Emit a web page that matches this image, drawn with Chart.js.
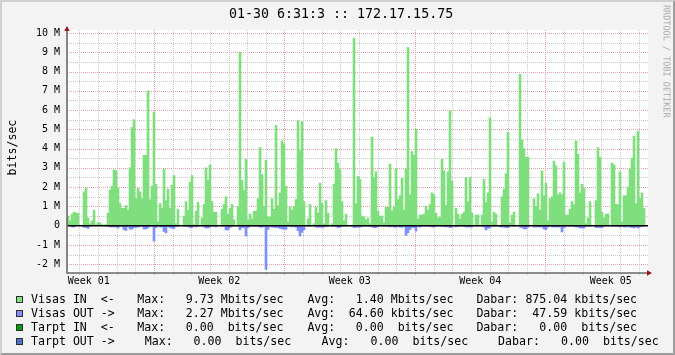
<!DOCTYPE html>
<html>
<head>
<meta charset="utf-8">
<script src="https://cdn.jsdelivr.net/npm/chart.js@4"></script>
<style>
html, body { margin: 0; padding: 0; }
body { width: 675px; height: 355px; overflow: hidden; background: #f3f3f3; position: relative; font-family: "DejaVu Sans Mono", monospace; }
#c { position: absolute; left: 0; top: 0; }
#frame { position: absolute; left: 0; top: 0; width: 675px; height: 355px; box-sizing: border-box; border-style: solid; border-width: 2px; border-color: #d0d0d0 #9c9c9c #9c9c9c #d0d0d0; pointer-events: none; }
.t { position: absolute; white-space: pre; color: #000; font-size: 11.6px; line-height: 14px; }
.sq { position: absolute; width: 7px; height: 7px; box-sizing: border-box; border: 1px solid #303030; }
#title { position: absolute; left: 229px; top: 6px; font-size: 13.3px; line-height: 15px; white-space: pre; }
#ylab { position: absolute; left: 0; top: 0; font-size: 11.6px; line-height: 14px; white-space: pre; transform-origin: 0 0; transform: translate(4.5px, 175.5px) rotate(-90deg); }
#wm { position: absolute; left: 0; top: 0; font-size: 8.5px; line-height: 10px; white-space: pre; color: #a8a8a8; transform-origin: 0 0; transform: translate(671.5px, 5px) rotate(90deg); }
</style>
</head>
<body>
<canvas id="c" width="675" height="355"></canvas>
<div id="title">01-30 6:31:3 :: 172.17.15.75</div>
<div id="ylab">bits/sec</div>
<div id="wm">RRDTOOL / TOBI OETIKER</div>
<div id="legend"></div>
<div id="frame"></div>
<script>
// --- DATA (Mbit/s per sample) ---
const IN_MBPS = [
  0.5, 0.25, 0.6, 0.7, 0.65, 0.65, 0.02, 0.02, 1.75, 1.95,     // 0
  0.4, 0.1, 0.25, 0.8, 0.05, 0.15, 0.15, 0.05, 0.03, 0.05,     // 10
  0.65, 1.85, 2.05, 2.9, 2.85, 1.95, 1.15, 0.9, 0.9, 1.05,     // 20
  0.8, 3.0, 5.1, 5.5, 1.4, 1.95, 1.75, 1.4, 3.65, 3.65,        // 30
  7.0, 1.35, 2.05, 5.9, 2.15, 0.2, 1.15, 0.9, 2.95, 1.3,       // 40
  1.9, 0.9, 2.1, 2.6, 0.1, 0.85, 0.02, 0, 0.5, 1.25,           // 50
  0.8, 2.25, 2.6, 0.05, 0.75, 1.2, 0.02, 0.4, 1.1, 3.0,        // 60
  2.35, 3.15, 1.25, 0.7, 0.7, 0, 0, 0.85, 1.1, 1.5,            // 70
  0.6, 0.9, 1.1, 0.3, 0, 1.0, 9.0, 2.35, 1.85, 3.45,           // 80
  0.3, 0.6, 0.35, 0.75, 0.75, 1.4, 4.05, 2.65, 1.0, 3.4,       // 90
  0.45, 0.45, 1.4, 0.85, 5.2, 1.05, 1.7, 4.4, 4.25, 2.05,      // 100
  0.2, 0.95, 0.8, 1.0, 1.35, 5.45, 3.9, 5.4, 1.25, 0,          // 110
  0.35, 1.1, 0, 0.1, 0.95, 0.65, 2.2, 1.15, 0.1, 1.3,          // 120
  0.65, 0, 0.1, 2.15, 4.0, 3.25, 2.9, 1.25, 0.25, 0.6,         // 130
  0, 0, 0, 9.73, 1.15, 2.55, 2.4, 0.5, 0.45, 0.3,              // 140
  0.4, 0.1, 4.6, 2.5, 2.8, 0.75, 0.5, 0.5, 0.15, 0.95,         // 150
  0.95, 3.2, 0.75, 0.95, 2.95, 1.35, 1.55, 2.45, 0.8, 2.95,    // 160
  9.25, 1.6, 3.85, 3.65, 5.0, 0.35, 0.55, 0.55, 0.6, 1.0,      // 170
  0.8, 1.1, 1.7, 1.6, 0.65, 0.4, 0.45, 3.45, 2.85, 1.05,       // 180
  2.8, 5.95, 2.3, 0, 0.9, 0.6, 0.35, 0.6, 0.7, 2.5,            // 190
  1.25, 2.5, 0.65, 0, 0.55, 0.55, 0, 0.55, 2.4, 1.2,           // 200
  1.7, 5.6, 0.2, 0.7, 0.6, 0, 0, 1.5, 1.9, 2.7,                // 210
  4.85, 0.15, 0.55, 0.7, 0, 0, 7.85, 4.45, 4.0, 3.55,          // 220
  3.55, 0, 0, 1.4, 1.0, 1.65, 0.8, 2.85, 1.55, 2.2,            // 230
  0.25, 1.4, 1.5, 3.35, 3.1, 1.6, 1.7, 1.6, 3.3, 0.55,         // 240
  0.55, 0.85, 1.25, 1.1, 4.4, 3.7, 1.7, 2.15, 1.95, 0.1,       // 250
  0.4, 1.25, 0, 0, 1.3, 4.05, 3.55, 0.7, 0.4, 0.6,             // 260
  0.6, 0, 3.25, 3.15, 1.1, 1.1, 2.8, 0.2, 1.55, 1.55,          // 270
  2.0, 2.95, 3.5, 4.65, 1.15, 4.9, 1.4, 1.7, 0.9               // 280
];

const OUT_MBPS = [
  0, 0, 0.07, 0.07, 0, 0, 0, 0, 0.09, 0.09,
  0.14, 0.02, 0, 0, 0, 0, 0, 0, 0, 0,
  0.02, 0.07, 0.07, 0.07, 0.07, 0.12, 0.04, 0.05, 0.2, 0.25,
  0.05, 0.18, 0.18, 0.1, 0.08, 0.08, 0.04, 0.03, 0.17, 0.17,
  0.12, 0.04, 0.04, 0.8, 0.1, 0.02, 0.07, 0.07, 0.3, 0.38,
  0.04, 0.1, 0.14, 0.14, 0.02, 0.03, 0, 0, 0.02, 0.03,
  0.03, 0.1, 0.1, 0.02, 0.07, 0.03, 0, 0.02, 0.07, 0.12,
  0.12, 0.07, 0.03, 0.02, 0.07, 0, 0, 0.03, 0.03, 0.22,
  0.22, 0.1, 0.03, 0.02, 0, 0.03, 0.22, 0.1, 0.1, 0.54,
  0.1, 0.03, 0.02, 0.03, 0.03, 0.03, 0.08, 0.08, 0.04, 2.27,
  0.2, 0.04, 0.08, 0.08, 0.1, 0.1, 0.14, 0.17, 0.19, 0.19,
  0.03, 0.03, 0.07, 0.03, 0.08, 0.26, 0.54, 0.35, 0.22, 0,
  0.02, 0.03, 0, 0.02, 0.08, 0.08, 0.08, 0.08, 0.08, 0.03,
  0.03, 0, 0.02, 0.04, 0.04, 0.1, 0.08, 0.03, 0.02, 0.02,
  0, 0, 0.02, 0.1, 0.08, 0.08, 0.08, 0.03, 0.03, 0.02,
  0.02, 0.02, 0.07, 0.1, 0.1, 0.03, 0.02, 0.02, 0.02, 0.03,
  0.03, 0.07, 0.03, 0.08, 0.08, 0.03, 0.08, 0.08, 0.03, 0.5,
  0.37, 0.2, 0.1, 0.1, 0.28, 0.02, 0.07, 0.02, 0.02, 0.03,
  0.03, 0.03, 0.07, 0.07, 0.03, 0.02, 0.02, 0.03, 0.03, 0.07,
  0.03, 0.1, 0.08, 0, 0.06, 0.03, 0.02, 0.03, 0.03, 0.07,
  0.07, 0.07, 0.07, 0, 0.02, 0.02, 0, 0.03, 0.07, 0.22,
  0.14, 0.1, 0.02, 0.03, 0.03, 0, 0.07, 0.07, 0.07, 0.1,
  0.1, 0.03, 0.02, 0.03, 0, 0, 0.07, 0.1, 0.17, 0.17,
  0.08, 0, 0, 0.07, 0.07, 0.07, 0.07, 0.07, 0.17, 0.2,
  0.07, 0.03, 0.07, 0.07, 0.07, 0.07, 0.07, 0.33, 0.1, 0.03,
  0.03, 0.03, 0.03, 0.03, 0.07, 0.07, 0.12, 0.12, 0.12, 0.02,
  0.02, 0.03, 0, 0, 0.1, 0.1, 0.1, 0.1, 0.03, 0.02,
  0.02, 0, 0.03, 0.03, 0.03, 0.03, 0.07, 0.03, 0.07, 0.07,
  0.03, 0.08, 0.08, 0.12, 0.07, 0.12, 0.07, 0.03, 0.03
];

const WEEK_LABELS = ['Week 01', 'Week 02', 'Week 03', 'Week 04', 'Week 05'];
const Y_TICKS = [-2, -1, 0, 1, 2, 3, 4, 5, 6, 7, 8, 9, 10];

const LEGEND_NAMES = ['Visas IN  <-', 'Visas OUT ->', 'Tarpt IN  <-', 'Tarpt OUT ->'];
const LEGEND_MAX = ['  9.73 Mbits/sec', '  2.27 Mbits/sec', '  0.00  bits/sec', '  0.00  bits/sec'];
const LEGEND_AVG = ['  1.40 Mbits/sec', ' 64.60 kbits/sec', '  0.00  bits/sec', '  0.00  bits/sec'];
const LEGEND_CUR = ['875.04 kbits/sec', ' 47.59 kbits/sec', '  0.00  bits/sec', '  0.00  bits/sec'];

// --- LOOK ---
const COL_IN = '#7fdf7f';
const COL_OUT = '#7f8fff';
const LEGEND_COLORS = [COL_IN, COL_OUT, '#00a000', '#4f6fcf'];
const MAJOR = '#e6a3a3';
const MINOR = '#cacaca';

// x axis is in sample slots; one day = 9.32 slots, first week boundary at slot 43.5
const SLOTS = 290.5;
const SLOTS_PER_DAY = 9.321;
const FIRST_WEEK = 43.5;

// --- LEGEND ---
function buildLegend() {
    const box = document.getElementById('legend');
    const cols = [
        [31, 137.3, 171.8, 307.4, 341.8, 476.4, 525.4],
        [31, 137.3, 171.8, 307.4, 341.8, 476.4, 525.4],
        [31, 137.3, 171.8, 307.4, 341.8, 476.4, 525.4],
        [31, 144.7, 179.6, 321.5, 356.6, 498, 547.1]
    ];
    LEGEND_NAMES.forEach((name, r) => {
        const top = 292 + r * 14;
        const sq = document.createElement('div');
        sq.className = 'sq';
        sq.style.left = '16px';
        sq.style.top = (top + 4) + 'px';
        sq.style.background = LEGEND_COLORS[r];
        box.appendChild(sq);
        const parts = [name, 'Max:', LEGEND_MAX[r], 'Avg:', LEGEND_AVG[r], 'Dabar:', LEGEND_CUR[r]];
        parts.forEach((txt, k) => {
            const s = document.createElement('div');
            s.className = 't';
            s.textContent = txt;
            s.style.left = cols[r][k] + 'px';
            s.style.top = top + 'px';
            box.appendChild(s);
        });
    });
}

// --- GRID / AXES (rrdtool look) ---
const rrdGrid = {
    id: 'rrdGrid',
    beforeDatasetsDraw(chart) {
        const { ctx, chartArea: a, scales: { x, y } } = chart;
        ctx.save();
        ctx.fillStyle = '#fff';
        ctx.fillRect(a.left, a.top, a.right - a.left, a.bottom - a.top);
        ctx.lineWidth = 1;
        ctx.setLineDash([1, 1]);
        for (let v = -2; v <= 10; v += 0.5) {
            if (v === 0) continue;
            const py = Math.round(y.getPixelForValue(v)) + 0.5;
            ctx.strokeStyle = Number.isInteger(v) ? MAJOR : MINOR;
            ctx.beginPath(); ctx.moveTo(a.left, py); ctx.lineTo(a.right, py); ctx.stroke();
        }
        for (let k = -4; ; k++) {
            const s = FIRST_WEEK + k * SLOTS_PER_DAY;
            if (s > x.max) break;
            if (s < x.min) continue;
            const px = Math.round(x.getPixelForValue(s)) + 0.5;
            ctx.strokeStyle = k % 7 === 0 ? MAJOR : MINOR;
            ctx.beginPath(); ctx.moveTo(px, a.top); ctx.lineTo(px, a.bottom + 3); ctx.stroke();
        }
        ctx.restore();
    },
    afterDatasetsDraw(chart) {
        const { ctx, chartArea: a, scales: { y } } = chart;
        ctx.save();
        // zero rule
        const y0 = y.getPixelForValue(0);
        ctx.strokeStyle = '#000';
        ctx.lineWidth = 1.5;
        ctx.beginPath(); ctx.moveTo(a.left, y0); ctx.lineTo(a.right, y0); ctx.stroke();
        // axes
        ctx.strokeStyle = '#6a6a6a';
        ctx.lineWidth = 1.6;
        ctx.beginPath();
        ctx.moveTo(a.left, a.top); ctx.lineTo(a.left, a.bottom);
        ctx.lineTo(a.right, a.bottom);
        ctx.stroke();
        // arrows
        ctx.fillStyle = '#9a1414';
        ctx.beginPath();
        ctx.moveTo(a.left, a.top - 4); ctx.lineTo(a.left - 2.7, a.top + 1); ctx.lineTo(a.left + 2.7, a.top + 1);
        ctx.closePath(); ctx.fill();
        ctx.beginPath();
        ctx.moveTo(a.right + 4, a.bottom); ctx.lineTo(a.right - 1, a.bottom - 2.7); ctx.lineTo(a.right - 1, a.bottom + 2.7);
        ctx.closePath(); ctx.fill();
        ctx.restore();
    }
};

const tickFont = { family: 'DejaVu Sans Mono', size: 10 };

new Chart(document.getElementById('c'), {
    type: 'bar',
    data: {
        datasets: [
            {
                label: 'Visas IN',
                data: IN_MBPS.map((v, i) => ({ x: i + 0.5, y: v })),
                backgroundColor: COL_IN,
                borderWidth: 0,
                grouped: false,
                barPercentage: 1,
                categoryPercentage: 1
            },
            {
                label: 'Visas OUT',
                data: OUT_MBPS.map((v, i) => ({ x: i + 0.5, y: -v })),
                backgroundColor: COL_OUT,
                borderWidth: 0,
                grouped: false,
                barPercentage: 1,
                categoryPercentage: 1
            }
        ]
    },
    options: {
        responsive: false,
        animation: false,
        devicePixelRatio: 1,
        events: [],
        layout: { padding: { left: 0, top: 30, right: 27, bottom: 0 } },
        plugins: { legend: { display: false }, tooltip: { enabled: false } },
        scales: {
            x: {
                type: 'linear',
                offset: false,
                min: 0,
                max: SLOTS,
                grid: { display: false, drawTicks: false, offset: false },
                border: { display: false },
                afterBuildTicks: s => {
                    s.ticks = WEEK_LABELS.map((_, k) => ({ value: FIRST_WEEK + (k - 0.5) * 7 * SLOTS_PER_DAY }));
                },
                ticks: {
                    autoSkip: false, maxRotation: 0, padding: 2, color: '#000', font: tickFont,
                    callback: (v, i) => WEEK_LABELS[i]
                },
                afterFit: s => { s.height = 82; }
            },
            y: {
                type: 'linear',
                min: -2.457,
                max: 10.155,
                grid: { display: false, drawTicks: false },
                border: { display: false },
                afterBuildTicks: s => { s.ticks = Y_TICKS.map(v => ({ value: v })); },
                ticks: {
                    autoSkip: false, padding: 7, color: '#000', font: tickFont,
                    callback: v => v === 0 ? '0' : v + ' M'
                },
                afterFit: s => { s.width = 67; }
            }
        }
    },
    plugins: [rrdGrid]
});

buildLegend();
</script>
</body>
</html>
